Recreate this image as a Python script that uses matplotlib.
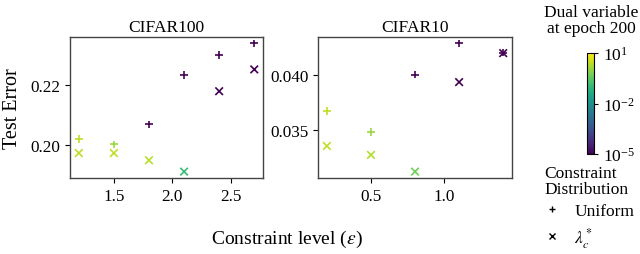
import matplotlib
matplotlib.use("Agg")
import matplotlib.pyplot as plt
import numpy as np
from matplotlib.colors import LogNorm
from matplotlib.lines import Line2D

plt.rcParams['font.family'] = ['Liberation Serif', 'DejaVu Serif']
plt.rcParams['mathtext.fontset'] = 'stix'

# CIFAR100
eps100 = [1.2, 1.5, 1.8, 2.1, 2.4, 2.7]
err100_uniform = [0.2019, 0.2001, 0.2068, 0.2234, 0.2301, 0.2339]
err100_lambda = [0.1972, 0.1972, 0.1948, 0.1910, 0.2179, 0.2252]
dual100_uniform = [2.5, 1.2, 1e-5, 1e-5, 1e-5, 1e-5]
dual100_lambda = [2.5, 2.5, 2.3, 0.12, 1e-5, 1e-5]

# CIFAR10
eps10 = [0.2, 0.5, 0.8, 1.1, 1.4]
err10_uniform = [0.03675, 0.03486, 0.04005, 0.04287, 0.04203]
err10_lambda = [0.03359, 0.03278, 0.03127, 0.03937, 0.04199]
dual10_uniform = [2.5, 1.2, 1e-5, 1e-5, 1e-5]
dual10_lambda = [2.5, 2.0, 0.5, 1e-5, 1e-5]

norm = LogNorm(vmin=1e-5, vmax=10)
cmap = 'viridis'

fig = plt.figure(figsize=(6.4, 2.55), dpi=100)
ax1 = fig.add_axes([0.1094, 0.298, 0.3016, 0.553])
ax2 = fig.add_axes([0.497, 0.298, 0.303, 0.553])
cax = fig.add_axes([0.917, 0.392, 0.011, 0.396])

panels = [
    (ax1, "CIFAR100", eps100, err100_uniform, err100_lambda, dual100_uniform, dual100_lambda),
    (ax2, "CIFAR10", eps10, err10_uniform, err10_lambda, dual10_uniform, dual10_lambda),
]

for ax, title, x, yu, yl, cu, cl in panels:
    sc = ax.scatter(x, yu, c=cu, cmap=cmap, norm=norm, marker='+', s=30, linewidths=1.2)
    ax.scatter(x, yl, c=cl, cmap=cmap, norm=norm, marker='x', s=30, linewidths=1.2)
    ax.set_title(title, fontsize=12.5, pad=4)
    ax.tick_params(labelsize=12.3, length=3.5, width=0.8, colors='black')
    for s in ax.spines.values():
        s.set_color('#444444')
        s.set_linewidth(1.0)

ax1.set_xticks([1.5, 2.0, 2.5])
ax1.set_yticks([0.20, 0.22])
ax2.set_xticks([0.5, 1.0])
ax2.set_yticks([0.035, 0.040])
ax1.set_ylabel("Test Error", fontsize=14.5, labelpad=6)
fig.text(0.449, 0.045, r"Constraint level ($\varepsilon$)", fontsize=14, ha='center')

cb = fig.colorbar(sc, cax=cax)
cb.set_ticks([1e-5, 1e-2, 1e1])
cb.ax.tick_params(labelsize=12.5, length=3, width=0.8)
cb.outline.set_linewidth(0.8)
fig.text(0.924, 0.98, "Dual variable\nat epoch 200", fontsize=12.5, ha='center', va='top',
         linespacing=1.0)

handles = [Line2D([], [], marker='+', color='black', linestyle='none', markersize=5),
           Line2D([], [], marker='x', color='black', linestyle='none', markersize=5)]
leg = fig.legend(handles, ["Uniform", r"$\lambda_c^*$"], loc='upper left',
                 bbox_to_anchor=(0.851, 0.35), frameon=False, fontsize=12.5,
                 title="Constraint\nDistribution", title_fontsize=12.5,
                 handlelength=0.8, handletextpad=0.9, labelspacing=0.35,
                 borderaxespad=0, borderpad=0)
leg._legend_box.align = "left"
leg.get_title().set_linespacing(1.0)

fig.savefig("out.png", dpi=100)
